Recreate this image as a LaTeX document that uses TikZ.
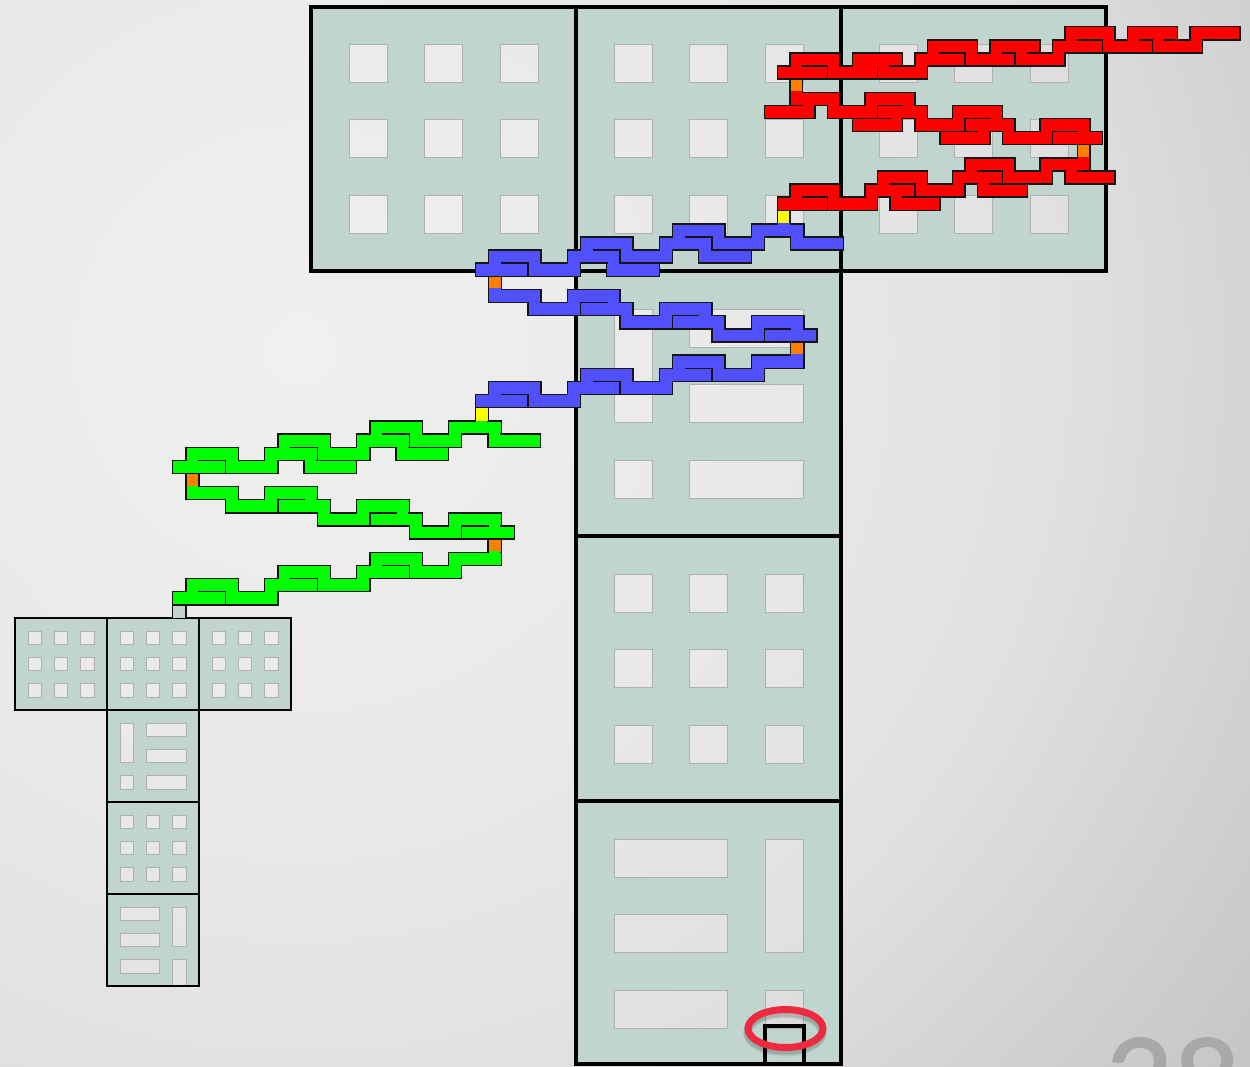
\documentclass[tikz,border=0pt]{standalone}
\usepackage{fontspec}
\newfontfamily\pagenum[FakeBold=1.5]{Lato}
\definecolor{panelc}{HTML}{BFD5CE}
\definecolor{holeline}{HTML}{B0B0B0}
\definecolor{chainred}{HTML}{FF0000}
\definecolor{chainblue}{HTML}{5050FF}
\definecolor{chaingreen}{HTML}{00FF00}
\definecolor{viaorange}{HTML}{FF7F00}
\definecolor{viayellow}{HTML}{FFFF00}
\definecolor{markred}{HTML}{EE2A40}
\definecolor{numgray}{HTML}{A8A8A8}
\definecolor{chainline}{HTML}{151515}
\pgfdeclareradialshading{bgrad}{\pgfpointorigin}{%
  color(0bp)=(rgb:white,240;black,15);
  color(12bp)=(rgb:white,233;black,22);
  color(20bp)=(rgb:white,225;black,30);
  color(26bp)=(rgb:white,210;black,45);
  color(31bp)=(rgb:white,198;black,57);
  color(50bp)=(rgb:white,190;black,65)}
\newcommand\holesq{38/38/76/76,113/38/151/76,189/38/227/76,38/113/76/151,113/113/151/151,189/113/227/151,38/189/76/227,113/189/151/227,189/189/227/227}
\newcommand\holetall{38/38/76/151,113/38/227/76,113/113/227/151,38/189/76/227,113/189/227/227}
\newcommand\holewideA{38/38/151/76,38/113/151/151,38/189/151/227,189/38/227/151,189/189/227/227}
\newcommand\holewideB{38/38/151/76,38/113/151/151,38/189/151/227,189/38/227/151,189/189/227/265}
% #1 x, #2 y, #3 unit, #4 height, #5 hole list
\newcommand\panelfill[5]{%
  \begin{scope}[shift={(#1,#2)},x=#3pt,y=-#3pt]
    \fill[panelc,even odd rule] (0,0) rectangle (265,#4)
      \foreach \a/\b/\c/\d in #5 {(\a,\b) rectangle (\c,\d)};
    \foreach \a/\b/\c/\d in #5 {\draw[holeline,line width=.5pt] (\a,\b) rectangle (\c,\d);}
  \end{scope}}
\newcommand\panelrim[5]{%
  \draw[rim,line width=#5pt] (#1,#2) rectangle ++(#3,#4);}
\newcommand\snakebars{15/0,21/0,8/1,14/1,18/1,24/1,1/2,7/2,11/2,17/2,0/3,4/3,10/3,
  1/5,7/5,4/6,8/6,14/6,11/7,15/7,21/7,18/8,22/8,
  15/10,21/10,8/11,14/11,18/11,1/12,7/12,11/12,0/13,4/13}
\newcommand\snakeopen{15/16/1,18/19/1,21/22/1,24/25/1,8/9/2,11/12/2,14/15/2,17/18/2,1/2/3,4/5/3,7/8/3,10/11/3,
  1/2/5,24/25/10,
  4/5/6,7/8/6,10/11/6,11/12/7,14/15/7,17/18/7,18/19/8,21/22/8,24/25/8,
  15/16/11,18/19/11,21/22/11,8/9/12,11/12/12,14/15/12,1/2/13,4/5/13,7/8/13}
\newcommand\redbars{23/0,28/0,33/0,12/1,17/1,22/1,26/1,30/1,1/2,6/2,11/2,15/2,19/2,0/3,4/3,8/3,
  1/5,7/5,-1/6,4/6,8/6,14/6,6/7,11/7,15/7,21/7,13/8,18/8,22/8,
  15/10,21/10,8/11,14/11,18/11,23/11,1/12,7/12,11/12,16/12,0/13,4/13,9/13}
\newcommand\redopen{23/24/1,26/27/1,28/29/1,30/31/1,33/34/1,12/13/2,15/16/2,17/18/2,19/20/2,22/23/2,
  1/2/3,4/5/3,6/8/3,8/9/3,11/12/3,
  1/2/5,24/25/10,
  2/3/6,4/5/6,7/8/6,10/11/6,9/10/7,11/12/7,14/15/7,17/18/7,16/17/8,18/19/8,21/22/8,24/25/8,
  15/16/11,18/19/11,21/22/11,23/24/11,8/9/12,11/12/12,14/15/12,16/17/12,1/2/13,4/5/13,7/8/13,9/10/13}
% #1 colour, #2 bars, #3 openings
\newcommand\chaindraw[3]{%
  \foreach \a/\b in #2 {\filldraw[fill=#1,draw=chainline,line width=1.4pt,line join=miter] (\a,\b) rectangle ++(4,1);}
  \foreach \a/\c/\b in #3 {\fill[#1] ([xshift=.8pt,yshift=1.1pt]\a,\b) rectangle ([xshift=-.8pt,yshift=-1.1pt]\c,\b);}}
% #1 colour, #2 column, #3 row
\newcommand\viacell[3]{%
  \pgfmathtruncatemacro\nc{#2+1}\pgfmathtruncatemacro\nr{#3+1}%
  \fill[#1] (#2,#3) rectangle (\nc,\nr);
  \draw[chainline,line width=1.4pt] (#2,#3) -- (#2,\nr) (\nc,#3) -- (\nc,\nr);}
\begin{document}
\begin{tikzpicture}[x=1pt,y=-1pt,rim/.style={draw=black,fill=none,line join=miter}]
\useasboundingbox (0,0) rectangle (1250,1066);
\clip (0,0) rectangle (1250,1066);
\shade[shading=bgrad] (-650,-600) rectangle (1250,1300);
% large T
\panelfill{311.5}{6.5}{1}{264.5}{\holesq}
\panelfill{576.5}{6.5}{1}{264.5}{\holesq}
\panelfill{841.5}{6.5}{1}{264.5}{\holesq}
\panelfill{576.5}{271}{1}{265}{\holetall}
\panelfill{576.5}{536}{1}{265}{\holesq}
\panelfill{576.5}{801}{1}{263}{\holewideA}
\panelrim{311}{6.5}{265}{264.5}{4}
\panelrim{576}{6.5}{265}{264.5}{4}
\panelrim{841}{6.5}{265}{264.5}{4}
\panelrim{576}{271}{265}{265}{4}
\panelrim{576}{536}{265}{265}{4}
\panelrim{576}{801}{265}{263}{4}
% small T
\panelfill{15}{618}{.3472}{265}{\holesq}
\panelfill{107}{618}{.3472}{265}{\holesq}
\panelfill{199}{618}{.3472}{265}{\holesq}
\panelfill{107}{710}{.3472}{265}{\holetall}
\panelfill{107}{802}{.3472}{265}{\holesq}
\panelfill{107}{894}{.3472}{265}{\holewideB}
\panelrim{15}{618}{92}{92}{1.7}
\panelrim{107}{618}{92}{92}{1.7}
\panelrim{199}{618}{92}{92}{1.7}
\panelrim{107}{710}{92}{92}{1.7}
\panelrim{107}{802}{92}{92}{1.7}
\panelrim{107}{894}{92}{92}{1.7}
% green chain
\begin{scope}[shift={(172.7,421)},x=13.14pt,y=-13.13pt]
  \viacell{panelc}{0}{14}
  \viacell{viaorange}{1}{4}
  \viacell{viaorange}{24}{9}
  \chaindraw{chaingreen}{\snakebars}{\snakeopen}
  \fill[chaingreen] ([xshift=.8pt,yshift=1.1pt]23,0) rectangle ([xshift=-.8pt,yshift=-1.1pt]24,0);
\end{scope}
% blue chain
\begin{scope}[shift={(475.3,223.8)},x=13.14pt,y=-13.13pt]
  \viacell{viayellow}{0}{14}
  \viacell{viaorange}{1}{4}
  \viacell{viaorange}{24}{9}
  \chaindraw{chainblue}{\snakebars}{\snakeopen}
\end{scope}
% red chain
\begin{scope}[shift={(777.3,26.7)},x=12.51pt,y=-13.11pt]
  \viacell{viayellow}{0}{14}
  \viacell{viaorange}{1}{4}
  \viacell{viaorange}{24}{9}
  \chaindraw{chainred}{\redbars}{\redopen}
\end{scope}
% re-open where the yellow link enters the blue chain
\begin{scope}[shift={(475.3,223.8)},x=13.14pt,y=-13.13pt]
  \fill[chainblue] ([xshift=.8pt,yshift=1.1pt]23,0) rectangle ([xshift=-.8pt,yshift=-1.1pt]24,0);
\end{scope}
% end stack and marker
\draw[black,line width=4pt,line join=miter] (765,1066) -- (765,1026) -- (803.5,1026) -- (803.5,1066);
\foreach \op/\sx/\sy in {.05/-.5/5,.07/-.5/4,.09/-.5/3} {\draw[black,opacity=\op,line width=8pt] (785.5+\sx,1028.5+\sy) ellipse [x radius=37.5,y radius=19];}
\draw[markred,line width=7pt] (785.5,1028.5) ellipse [x radius=37.5,y radius=19];
\node[anchor=base west,inner sep=0pt,text=numgray,font=\pagenum\fontsize{116}{116}\selectfont] (pagenum) at (1106,1122) {28};
\end{tikzpicture}
\end{document}
